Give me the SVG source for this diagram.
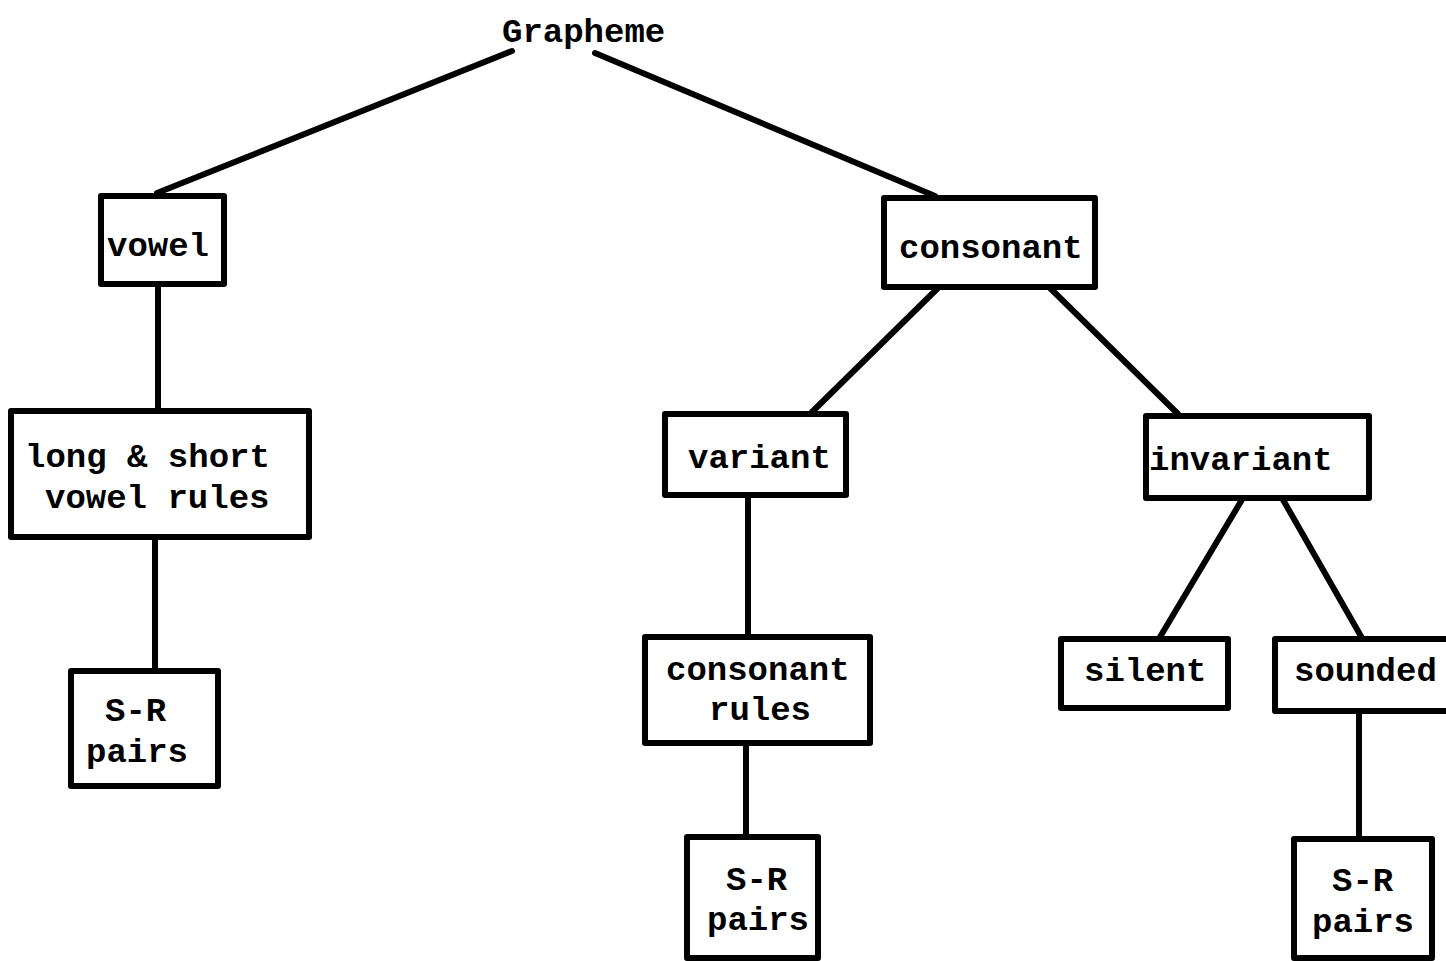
<svg xmlns="http://www.w3.org/2000/svg" width="1446" height="961" viewBox="0 0 1446 961">
<style>
.box{fill:#fff;stroke:#000;stroke-width:6;stroke-linejoin:round}
.ln{stroke:#000;stroke-width:6;fill:none;stroke-linecap:round}
text{font-family:"Liberation Mono","DejaVu Sans Mono",monospace;font-weight:bold;font-size:34px;fill:#000}
</style>
<rect width="1446" height="961" fill="#fff"/>
<g id="connectors">
<line class="ln" x1="512" y1="51" x2="157" y2="193"/>
<line class="ln" x1="595" y1="53" x2="935" y2="196"/>
<line class="ln" x1="158" y1="284" x2="158" y2="410"/>
<line class="ln" x1="155" y1="537" x2="155" y2="670"/>
<line class="ln" x1="938" y1="288" x2="812" y2="412"/>
<line class="ln" x1="1050" y1="288" x2="1178" y2="414"/>
<line class="ln" x1="748" y1="495" x2="748" y2="636"/>
<line class="ln" x1="746" y1="743" x2="746" y2="836"/>
<line class="ln" x1="1243" y1="498" x2="1160" y2="637"/>
<line class="ln" x1="1282" y1="498" x2="1362" y2="638"/>
<line class="ln" x1="1359" y1="711" x2="1359" y2="838"/>
</g>
<g id="grapheme"><text x="502" y="42">Grapheme</text></g>
<g id="vowel"><rect class="box" x="101" y="196" width="123" height="88"/><text x="107" y="256">vowel</text></g>
<g id="longshort"><rect class="box" x="11" y="411" width="298" height="126"/><text x="25" y="467">long &amp; short</text><text x="45" y="508">vowel rules</text></g>
<g id="sr1"><rect class="box" x="71" y="671" width="147" height="115"/><text x="105" y="721">S-R</text><text x="86" y="762">pairs</text></g>
<g id="consonant"><rect class="box" x="884" y="198" width="211" height="89"/><text x="899" y="258">consonant</text></g>
<g id="variant"><rect class="box" x="665" y="414" width="181" height="81"/><text x="688" y="468">variant</text></g>
<g id="consrules"><rect class="box" x="645" y="637" width="225" height="106"/><text x="666" y="680">consonant</text><text x="709" y="720">rules</text></g>
<g id="sr2"><rect class="box" x="687" y="837" width="131" height="121"/><text x="726" y="890">S-R</text><text x="707" y="930">pairs</text></g>
<g id="invariant"><rect class="box" x="1146" y="416" width="223" height="82"/><text x="1149" y="470">invariant</text></g>
<g id="silent"><rect class="box" x="1061" y="639" width="167" height="69"/><text x="1084" y="681">silent</text></g>
<g id="sounded"><rect class="box" x="1275" y="639" width="180" height="72"/><text x="1294" y="681">sounded</text></g>
<g id="sr3"><rect class="box" x="1294" y="839" width="138" height="119"/><text x="1332" y="891">S-R</text><text x="1312" y="932">pairs</text></g>
</svg>
